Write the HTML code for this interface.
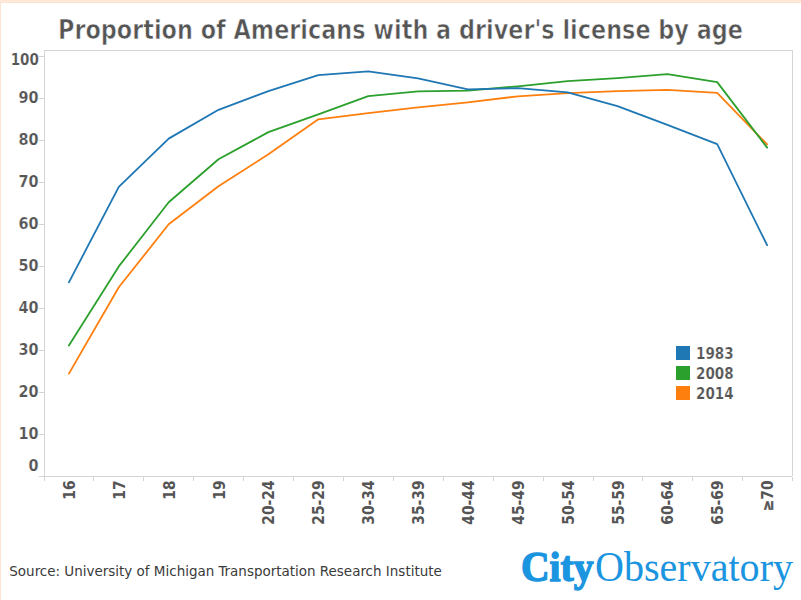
<!DOCTYPE html>
<html><head><meta charset="utf-8"><style>
html,body{margin:0;padding:0;background:#fff;}
body{width:801px;height:600px;overflow:hidden;position:relative;}
svg{position:absolute;left:0;top:0;}
.yl{font-family:"DejaVu Sans Condensed","DejaVu Sans",sans-serif;font-weight:bold;stroke:#fff;stroke-width:0.2px;font-size:16px;fill:#555;text-anchor:end;}
.xl{font-family:"DejaVu Sans Condensed","DejaVu Sans",sans-serif;font-weight:bold;font-size:15.4px;fill:#555;text-anchor:end;}
.lg{font-family:"DejaVu Sans Condensed","DejaVu Sans",sans-serif;font-weight:bold;stroke:#fff;stroke-width:0.2px;font-size:15px;fill:#555;}
.ti{font-family:"DejaVu Sans Condensed","DejaVu Sans",sans-serif;font-weight:bold;font-size:26.5px;fill:#555;stroke:#fff;stroke-width:0.6px;}
.src{font-family:"DejaVu Sans Condensed","DejaVu Sans",sans-serif;font-size:14.5px;fill:#3a3a3a;}
.logo{font-family:"Liberation Serif",serif;font-size:43px;fill:#1b95e0;}
</style></head><body>
<svg width="801" height="600" viewBox="0 0 801 600">
<rect x="0" y="0" width="801" height="2" fill="#fee9d9"/><rect x="0" y="2" width="801" height="1" fill="#fde3d2"/>
<rect x="0" y="0" width="1" height="600" fill="#fde5d5"/>
<text class="ti" x="58" y="38.5" textLength="685" lengthAdjust="spacingAndGlyphs">Proportion of Americans with a driver's license by age</text>
<path d="M44 50.5H793M44.5 51V481M792.5 51V476M39 476.5H792M792.5 477V481" fill="none" stroke="#d4d4d4" stroke-width="1"/>
<line x1="39" y1="476.5" x2="44" y2="476.5" stroke="#d4d4d4" stroke-width="1"/>
<text x="38.5" y="471.2" class="yl">0</text>
<line x1="39" y1="434.5" x2="44" y2="434.5" stroke="#d4d4d4" stroke-width="1"/>
<text x="38.5" y="438.5" class="yl">10</text>
<line x1="39" y1="392.5" x2="44" y2="392.5" stroke="#d4d4d4" stroke-width="1"/>
<text x="38.5" y="396.6" class="yl">20</text>
<line x1="39" y1="350.5" x2="44" y2="350.5" stroke="#d4d4d4" stroke-width="1"/>
<text x="38.5" y="354.7" class="yl">30</text>
<line x1="39" y1="308.5" x2="44" y2="308.5" stroke="#d4d4d4" stroke-width="1"/>
<text x="38.5" y="312.8" class="yl">40</text>
<line x1="39" y1="266.5" x2="44" y2="266.5" stroke="#d4d4d4" stroke-width="1"/>
<text x="38.5" y="270.9" class="yl">50</text>
<line x1="39" y1="224.5" x2="44" y2="224.5" stroke="#d4d4d4" stroke-width="1"/>
<text x="38.5" y="229.0" class="yl">60</text>
<line x1="39" y1="182.5" x2="44" y2="182.5" stroke="#d4d4d4" stroke-width="1"/>
<text x="38.5" y="187.1" class="yl">70</text>
<line x1="39" y1="140.5" x2="44" y2="140.5" stroke="#d4d4d4" stroke-width="1"/>
<text x="38.5" y="145.2" class="yl">80</text>
<line x1="39" y1="98.5" x2="44" y2="98.5" stroke="#d4d4d4" stroke-width="1"/>
<text x="38.5" y="103.3" class="yl">90</text>
<line x1="39" y1="56.5" x2="44" y2="56.5" stroke="#d4d4d4" stroke-width="1"/>
<text x="38.9" y="65.2" class="yl" textLength="28.2" lengthAdjust="spacingAndGlyphs">100</text>
<line x1="93.5" y1="476" x2="93.5" y2="481" stroke="#d4d4d4" stroke-width="1"/>
<line x1="143.5" y1="476" x2="143.5" y2="481" stroke="#d4d4d4" stroke-width="1"/>
<line x1="193.5" y1="476" x2="193.5" y2="481" stroke="#d4d4d4" stroke-width="1"/>
<line x1="243.5" y1="476" x2="243.5" y2="481" stroke="#d4d4d4" stroke-width="1"/>
<line x1="293.5" y1="476" x2="293.5" y2="481" stroke="#d4d4d4" stroke-width="1"/>
<line x1="343.5" y1="476" x2="343.5" y2="481" stroke="#d4d4d4" stroke-width="1"/>
<line x1="393.5" y1="476" x2="393.5" y2="481" stroke="#d4d4d4" stroke-width="1"/>
<line x1="443.5" y1="476" x2="443.5" y2="481" stroke="#d4d4d4" stroke-width="1"/>
<line x1="493.5" y1="476" x2="493.5" y2="481" stroke="#d4d4d4" stroke-width="1"/>
<line x1="543.5" y1="476" x2="543.5" y2="481" stroke="#d4d4d4" stroke-width="1"/>
<line x1="593.5" y1="476" x2="593.5" y2="481" stroke="#d4d4d4" stroke-width="1"/>
<line x1="642.5" y1="476" x2="642.5" y2="481" stroke="#d4d4d4" stroke-width="1"/>
<line x1="692.5" y1="476" x2="692.5" y2="481" stroke="#d4d4d4" stroke-width="1"/>
<line x1="742.5" y1="476" x2="742.5" y2="481" stroke="#d4d4d4" stroke-width="1"/>
<text class="xl" transform="translate(74.9,480.4) rotate(-90)" x="0" y="0">16</text>
<text class="xl" transform="translate(124.8,480.4) rotate(-90)" x="0" y="0">17</text>
<text class="xl" transform="translate(174.7,480.4) rotate(-90)" x="0" y="0">18</text>
<text class="xl" transform="translate(224.5,480.4) rotate(-90)" x="0" y="0">19</text>
<text class="xl" transform="translate(274.4,480.4) rotate(-90)" x="0" y="0">20-24</text>
<text class="xl" transform="translate(324.3,480.4) rotate(-90)" x="0" y="0">25-29</text>
<text class="xl" transform="translate(374.2,480.4) rotate(-90)" x="0" y="0">30-34</text>
<text class="xl" transform="translate(424.0,480.4) rotate(-90)" x="0" y="0">35-39</text>
<text class="xl" transform="translate(473.9,480.4) rotate(-90)" x="0" y="0">40-44</text>
<text class="xl" transform="translate(523.8,480.4) rotate(-90)" x="0" y="0">45-49</text>
<text class="xl" transform="translate(573.6,480.4) rotate(-90)" x="0" y="0">50-54</text>
<text class="xl" transform="translate(623.5,480.4) rotate(-90)" x="0" y="0">55-59</text>
<text class="xl" transform="translate(673.4,480.4) rotate(-90)" x="0" y="0">60-64</text>
<text class="xl" transform="translate(723.2,480.4) rotate(-90)" x="0" y="0">65-69</text>
<text class="xl" transform="translate(773.1,480.4) rotate(-90)" x="0" y="0"><tspan stroke="#555" stroke-width="0.4">≥</tspan>70</text>
<polyline points="68.9,373.6 118.8,287.3 168.7,224.3 218.5,186.3 268.4,154.3 318.3,119.3 368.2,113.1 418.0,107.3 467.9,102.3 517.8,96.3 567.6,93.1 617.5,91.1 667.4,89.8 717.2,92.9 767.1,144.4" fill="none" stroke="#ff7f0e" stroke-width="1.8" stroke-linejoin="round" stroke-linecap="round"/>
<polyline points="68.9,345.6 118.8,266.4 168.7,202.3 218.5,159.3 268.4,132.1 318.3,114.3 368.2,96.1 418.0,91.3 467.9,90.6 517.8,86.3 567.6,81.1 617.5,78.1 667.4,74.1 717.2,82.1 767.1,147.6" fill="none" stroke="#2ca02c" stroke-width="1.8" stroke-linejoin="round" stroke-linecap="round"/>
<polyline points="68.9,282.3 118.8,186.9 168.7,138.6 218.5,109.8 268.4,91.1 318.3,75.1 368.2,71.3 418.0,78.4 467.9,89.3 517.8,88.1 567.6,92.3 617.5,106.1 667.4,124.8 717.2,144.1 767.1,245.2" fill="none" stroke="#1f77b4" stroke-width="1.8" stroke-linejoin="round" stroke-linecap="round"/>
<rect x="676" y="346" width="14" height="14" fill="#1f77b4"/>
<text class="lg" x="696" y="359">1983</text>
<rect x="676" y="366" width="14" height="14" fill="#2ca02c"/>
<text class="lg" x="696" y="379">2008</text>
<rect x="676" y="386" width="14" height="14" fill="#ff7f0e"/>
<text class="lg" x="696" y="399">2014</text>
<text class="src" x="9.3" y="575.8" textLength="432.5" lengthAdjust="spacingAndGlyphs">Source: University of Michigan Transportation Research Institute</text>
<text class="logo" x="521" y="580.8" font-weight="bold" stroke="#1b95e0" stroke-width="1.4" textLength="72.5" lengthAdjust="spacingAndGlyphs">City</text>
<text class="logo" x="595" y="580.8" textLength="198" lengthAdjust="spacingAndGlyphs">Observatory</text>
</svg>
</body></html>
